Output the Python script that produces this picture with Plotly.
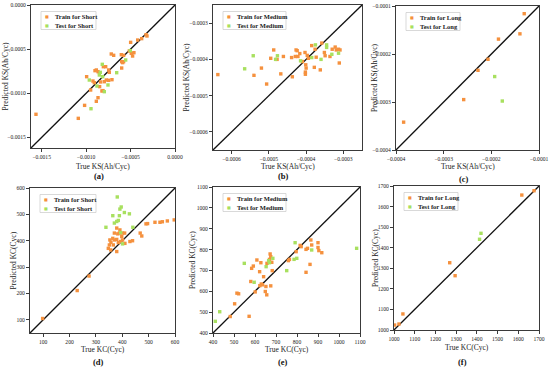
import plotly.graph_objects as go

W, H = 550, 367
FONT = "Liberation Serif"
ORANGE = "#F5913E"
GREEN = "#A8E05F"

# ---------------- data ----------------
a_train_x = [-0.000326,-0.000315,-0.000375,-0.00042,-0.000499,-0.000514,-0.000462,-0.000492,-0.000477,-0.000717,-0.00069,-0.000604,-0.000578,-0.0006,-0.000589,-0.000578,-0.0006,-0.000806,-0.00078,-0.0009,-0.000885,-0.000866,-0.000851,-0.000746,-0.000739,-0.000994,-0.000923,-0.000908,-0.000837,-0.000795,-0.000773,-0.000746,-0.000709,-0.000949,-0.000848,-0.000822,-0.00081,-0.000866,-0.000885,-0.001017,-0.001088,-0.001564]
a_train_y = [-0.000336,-0.000351,-0.000381,-0.000397,-0.000423,-0.000521,-0.00054,-0.000548,-0.000578,-0.000555,-0.00057,-0.000563,-0.00057,-0.000642,-0.000653,-0.000642,-0.000714,-0.000699,-0.000699,-0.000744,-0.000736,-0.000755,-0.000767,-0.000736,-0.000763,-0.000812,-0.000861,-0.00088,-0.000872,-0.000869,-0.00085,-0.000853,-0.000846,-0.000963,-0.000925,-0.000974,-0.00097,-0.00105,-0.001091,-0.001137,-0.001284,-0.001238]
a_test_x = [-0.000503,-0.000555,-0.000818,-0.000656,-0.00084,-0.000851,-0.000814,-0.000964,-0.000754,-0.000878,-0.000795,-0.000945]
a_test_y = [-0.000517,-0.000623,-0.000672,-0.000767,-0.000763,-0.000793,-0.000812,-0.00085,-0.000906,-0.000918,-0.000982,-0.001175]

b_train_x = [-0.000637,-0.00054,-0.00052,-0.000506,-0.000495,-0.000487,-0.000478,-0.000468,-0.000461,-0.000439,-0.000437,-0.000429,-0.000427,-0.000424,-0.000422,-0.000417,-0.00041,-0.000403,-0.000401,-0.0004,-0.000402,-0.000402,-0.000397,-0.000394,-0.000385,-0.000378,-0.000376,-0.000373,-0.000362,-0.000358,-0.000351,-0.000349,-0.000336,-0.00033,-0.000322,-0.000319,-0.000313,-0.000309,-0.000311]
b_train_y = [-0.000442,-0.000444,-0.000424,-0.000468,-0.000397,-0.000374,-0.0004,-0.00044,-0.000392,-0.000395,-0.000448,-0.000392,-0.000374,-0.000376,-0.000392,-0.000384,-0.000406,-0.000381,-0.000415,-0.000424,-0.000435,-0.000441,-0.000389,-0.000397,-0.000362,-0.000422,-0.000372,-0.000394,-0.000429,-0.000355,-0.000381,-0.00039,-0.000392,-0.000372,-0.000366,-0.000374,-0.000372,-0.000374,-0.00041]
b_test_x = [-0.000565,-0.000542,-0.000482,-0.000477,-0.000415,-0.000385,-0.000375,-0.000345,-0.000345,-0.00036,-0.000331,-0.000313]
b_test_y = [-0.000426,-0.00039,-0.0004,-0.00039,-0.000404,-0.000395,-0.00036,-0.00036,-0.000367,-0.0004,-0.000386,-0.000383]

c_train_x = [-0.000384,-0.000258,-0.000228,-0.000207,-0.000185,-0.00014,-0.000131]
c_train_y = [-0.000342,-0.000295,-0.000234,-0.000211,-0.000169,-0.000158,-0.000116]
c_test_x = [-0.000193,-0.000177]
c_test_y = [-0.000247,-0.000298]

d_train_x = [490,496,543,552,571,597,524,468,474,429,439,401,409,391,379,383,389,398,370,364,370,379,353,357,385,394,351,366,347,356,379,401,410,98,229,274]
d_train_y = [464,465,470,472,475,479,470,429,418,397,400,429,429,441,448,426,429,416,429,409,403,405,403,394,393,397,384,384,371,365,359,403,390,105,211,266]
d_test_x = [381,391,396,364,389,408,427,338,370,379,385,440,401,394]
d_test_y = [566,520,528,495,495,507,502,451,467,473,477,451,388,431]

e_train_x = [815,820,866,870,900,900,904,918,850,843,796,759,764,862,843,672,675,669,680,657,609,628,592,584,622,682,641,580,630,636,623,652,675,649,656,601,514,522,482,572,503]
e_train_y = [820,814,846,822,833,810,795,785,806,801,790,747,753,729,691,779,766,753,739,734,750,737,721,710,694,699,670,647,635,631,627,623,626,599,583,597,591,588,479,480,540]
e_test_x = [549,596,665,669,685,653,791,799,786,751,870,1084,411,432]
e_test_y = [734,643,747,737,758,718,833,758,753,699,798,806,456,502]

f_train_x = [1003,1024,1043,1269,1295,1617,1676]
f_train_y = [1024,1029,1078,1327,1264,1656,1677]
f_test_x = [1420,1413]
f_test_y = [1470,1441]

ks_title_x = "True KS(Ah/Cyc)"
ks_title_y = "Predicted KS(Ah/Cyc)"
kc_title_x = "True KC(Cyc)"
kc_title_y = "Predicted KC(Cyc)"

# ---------------- panels ----------------
# frame in pixels: left, right, top, bottom
panels = [
    dict(tag="(a)", group="Short", tx=a_train_x, ty=a_train_y, sx=a_test_x, sy=a_test_y,
         rng=[-0.00162, 0.0], ticks=[-0.0015, -0.0010, -0.0005, 0.0], fmt=".4f",
         frame=(31, 175, 5, 148), xt=ks_title_x, yt=ks_title_y, ytx=5, lw=55, titdy=18, tagdy=27.5),
    dict(tag="(b)", group="Medium", tx=b_train_x, ty=b_train_y, sx=b_test_x, sy=b_test_y,
         rng=[-0.00065, -0.00025], ticks=[-0.0006, -0.0005, -0.0004, -0.0003], fmt=".4f",
         frame=(213, 362, 5, 150), xt=ks_title_x, yt=ks_title_y, ytx=186, lw=63, titdy=16, tagdy=26),
    dict(tag="(c)", group="Long", tx=c_train_x, ty=c_train_y, sx=c_test_x, sy=c_test_y,
         rng=[-0.0004, -0.0001], ticks=[-0.0004, -0.0003, -0.0002, -0.0001], fmt=".4f",
         frame=(396, 539, 6, 150), xt=ks_title_x, yt=ks_title_y, ytx=374, lw=54, titdy=17, tagdy=28.5),
    dict(tag="(d)", group="Short", tx=d_train_x, ty=d_train_y, sx=d_test_x, sy=d_test_y,
         rng=[50, 600], ticks=[100, 200, 300, 400, 500, 600], fmt="d",
         frame=(30, 175, 188, 333), xt=kc_title_x, yt=kc_title_y, ytx=13, lw=56, titdy=16, tagdy=29),
    dict(tag="(e)", group="Medium", tx=e_train_x, ty=e_train_y, sx=e_test_x, sy=e_test_y,
         rng=[400, 1100], ticks=[400, 500, 600, 700, 800, 900, 1000, 1100], fmt="d",
         frame=(213, 360, 187, 333), xt=kc_title_x, yt=kc_title_y, ytx=192, lw=63, titdy=16, tagdy=29),
    dict(tag="(f)", group="Long", tx=f_train_x, ty=f_train_y, sx=f_test_x, sy=f_test_y,
         rng=[1000, 1700], ticks=[1000, 1100, 1200, 1300, 1400, 1500, 1600, 1700], fmt="d",
         frame=(394, 539, 186, 330), xt=kc_title_x, yt=kc_title_y, ytx=375, lw=54, titdy=17, tagdy=32),
]

def px(x):
    return x / W

def py(y):
    return 1 - y / H

fig = go.Figure()
annotations = []
shapes = []
layout = {}

for i, p in enumerate(panels, start=1):
    sfx = "" if i == 1 else str(i)
    xa, ya = "x" + sfx, "y" + sfx
    L, R, T, B = p["frame"]
    axis_common = dict(
        range=p["rng"], tickvals=p["ticks"], tickformat=p["fmt"],
        showline=True, mirror=True, linecolor="#3a3a3a", linewidth=1,
        ticks="outside", ticklen=3, tickwidth=1, tickcolor="#3a3a3a",
        showgrid=False, zeroline=False, automargin=False,
        tickfont=dict(family=FONT, size=5.6, color="#222"),
    )
    layout["xaxis" + sfx] = dict(axis_common, domain=[px(L), px(R)], anchor=ya)
    layout["yaxis" + sfx] = dict(axis_common, domain=[py(B), py(T)], anchor=xa)

    lo, hi = p["rng"]
    fig.add_trace(go.Scatter(x=[lo, hi], y=[lo, hi], mode="lines", xaxis=xa, yaxis=ya,
                             line=dict(color="#111", width=1.3), showlegend=False, hoverinfo="skip"))
    fig.add_trace(go.Scatter(x=p["tx"], y=p["ty"], mode="markers", xaxis=xa, yaxis=ya,
                             name="Train for " + p["group"], showlegend=False,
                             marker=dict(color=ORANGE, size=3.4, symbol="square", line=dict(width=0))))
    fig.add_trace(go.Scatter(x=p["sx"], y=p["sy"], mode="markers", xaxis=xa, yaxis=ya,
                             name="Test for " + p["group"], showlegend=False,
                             marker=dict(color=GREEN, size=3.4, symbol="square", line=dict(width=0))))

    cx = (L + R) / 2
    # axis titles
    annotations.append(dict(text=p["xt"], x=px(cx), y=py(B + p["titdy"]), xref="paper", yref="paper",
                            showarrow=False, xanchor="center", yanchor="middle",
                            font=dict(family=FONT, size=7.5, color="#222")))
    annotations.append(dict(text=p["yt"], x=px(p["ytx"]), y=py((T + B) / 2), xref="paper", yref="paper",
                            showarrow=False, xanchor="center", yanchor="middle", textangle=-90,
                            font=dict(family=FONT, size=7.5, color="#222")))
    # panel tag
    annotations.append(dict(text="<b>" + p["tag"] + "</b>", x=px(cx - 4), y=py(B + p["tagdy"]), xref="paper", yref="paper",
                            showarrow=False, xanchor="center", yanchor="middle",
                            font=dict(family=FONT, size=8.5, color="#111")))
    # legend box
    bx0, by0 = L + 10, T + 6.5
    bx1, by1 = bx0 + p["lw"], by0 + 18
    shapes.append(dict(type="rect", xref="paper", yref="paper",
                       x0=px(bx0), x1=px(bx1), y0=py(by1), y1=py(by0),
                       line=dict(color="#cfcfcf", width=0.8), fillcolor="white"))
    for k, (lab, col) in enumerate([("Train for " + p["group"], ORANGE), ("Test for " + p["group"], GREEN)]):
        yy = by0 + 4.7 + k * 9
        annotations.append(dict(text="■", x=px(bx0 + 5.5), y=py(yy), xref="paper", yref="paper",
                                showarrow=False, xanchor="center", yanchor="middle",
                                font=dict(family="DejaVu Sans", size=4, color=col)))
        annotations.append(dict(text="<b>" + lab + "</b>", x=px(bx0 + 12), y=py(yy), xref="paper", yref="paper",
                                showarrow=False, xanchor="left", yanchor="middle",
                                font=dict(family=FONT, size=6.5, color="#222")))

fig.update_layout(
    width=W, height=H, margin=dict(l=0, r=0, t=0, b=0),
    paper_bgcolor="white", plot_bgcolor="white",
    showlegend=False, annotations=annotations, shapes=shapes, **layout,
)

fig.write_html("out.html", config={"displayModeBar": False},
               post_script="document.body.style.margin='0';document.body.style.overflow='hidden';")
